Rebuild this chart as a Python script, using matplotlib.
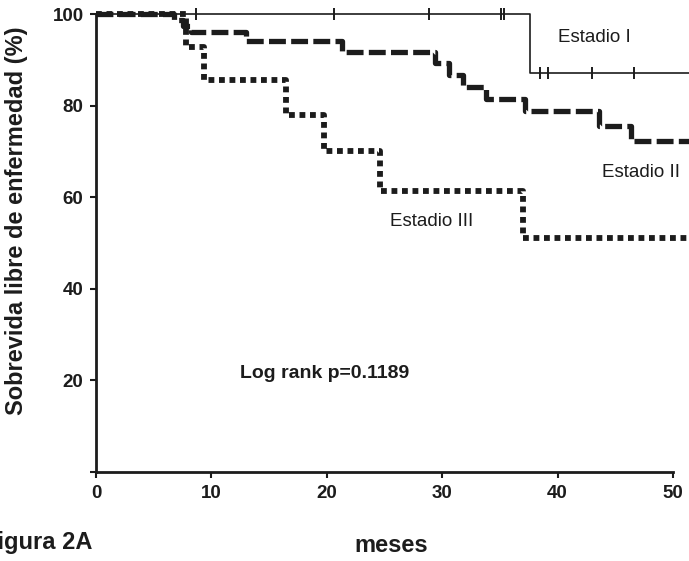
import matplotlib
matplotlib.use("Agg")
import matplotlib.pyplot as plt

plt.rcParams['font.family'] = ['Liberation Sans', 'DejaVu Sans']

# Kaplan-Meier step data (months, % disease-free survival)
stage1_t = [0, 37.6, 52]
stage1_s = [100, 87.1, 87.1]
stage1_cens_t = [8.7, 20.6, 28.9, 35.1, 35.4, 38.5, 39.2, 43.0, 46.6]
stage1_cens_s = [100, 100, 100, 100, 100, 87.1, 87.1, 87.1, 87.1]

stage2_t = [0, 6.8, 7.5, 8.2, 13.0, 21.3, 29.4, 30.6, 31.8, 33.8, 37.2, 43.6, 46.4, 52]
stage2_s = [100, 98.7, 97.4, 96.1, 94.2, 91.8, 89.2, 86.6, 84.0, 81.4, 78.8, 75.5, 72.2, 72.2]

stage3_t = [0, 7.8, 9.4, 16.5, 19.8, 24.6, 37.0, 52]
stage3_s = [100, 92.9, 85.7, 77.9, 70.1, 61.3, 51.1, 51.1]

x_ticks = [0, 10, 20, 30, 40, 50]
y_ticks = [0, 20, 40, 60, 80, 100]
y_tick_labels = ['', '20', '40', '60', '80', '100']

ink = '#1c1c1c'

fig = plt.figure(figsize=(6.89, 5.61), dpi=100)
ax = fig.add_axes([96 / 689, 1 - 472 / 561, (689 - 96) / 689, 472 / 561])

ax.step(stage1_t, stage1_s, where='post', color=ink, lw=1.2, zorder=3)
ax.plot(stage1_cens_t, stage1_cens_s, ls='none', marker='|', ms=8, mew=1.4,
        color=ink, zorder=3)

ax.step(stage2_t, stage2_s, where='post', color=ink, lw=3.8,
        dashes=(3.2, 1.0), dash_capstyle='butt', zorder=4)

ax.step(stage3_t, stage3_s, where='post', color=ink, lw=4.2,
        dashes=(1.0, 0.8), dash_capstyle='butt', zorder=5)

ax.set_xlim(0, 51.39)
ax.set_ylim(0, 103.06)
ax.spines['top'].set_visible(False)
ax.spines['right'].set_visible(False)
ax.spines['left'].set_bounds(0, 100)
ax.spines['bottom'].set_bounds(0, 50)
for s in ('left', 'bottom'):
    ax.spines[s].set_linewidth(2.0)
    ax.spines[s].set_color(ink)

ax.set_xticks(x_ticks)
ax.set_xticklabels([str(v) for v in x_ticks])
ax.set_yticks(y_ticks)
ax.set_yticklabels(y_tick_labels)
ax.tick_params(axis='both', direction='out', length=4, width=1.5, colors=ink,
               labelsize=13.5, pad=5)
for lab in ax.get_xticklabels() + ax.get_yticklabels():
    lab.set_fontweight('bold')

ax.text(43.2, 94.8, 'Estadio I', fontsize=13.5, color=ink, ha='center', va='center')
ax.text(47.2, 65.5, 'Estadio II', fontsize=13.5, color=ink, ha='center', va='center')
ax.text(29.1, 54.6, 'Estadio III', fontsize=13.5, color=ink, ha='center', va='center')
ax.text(19.8, 21.6, 'Log rank p=0.1189', fontsize=14, fontweight='bold', color=ink,
        ha='center', va='center')

fig.text(17 / 689, 1 - 221 / 561, 'Sobrevida libre de enfermedad (%)', rotation=90,
         fontsize=17, fontweight='bold', color=ink, ha='center', va='center')
fig.text(391 / 689, 1 - 545 / 561, 'meses', fontsize=17, fontweight='bold',
         color=ink, ha='center', va='center')
fig.text(92 / 689, 1 - 542 / 561, 'Figura 2A', fontsize=17, fontweight='bold',
         color=ink, ha='right', va='center')

fig.savefig('out.png', dpi=100)
